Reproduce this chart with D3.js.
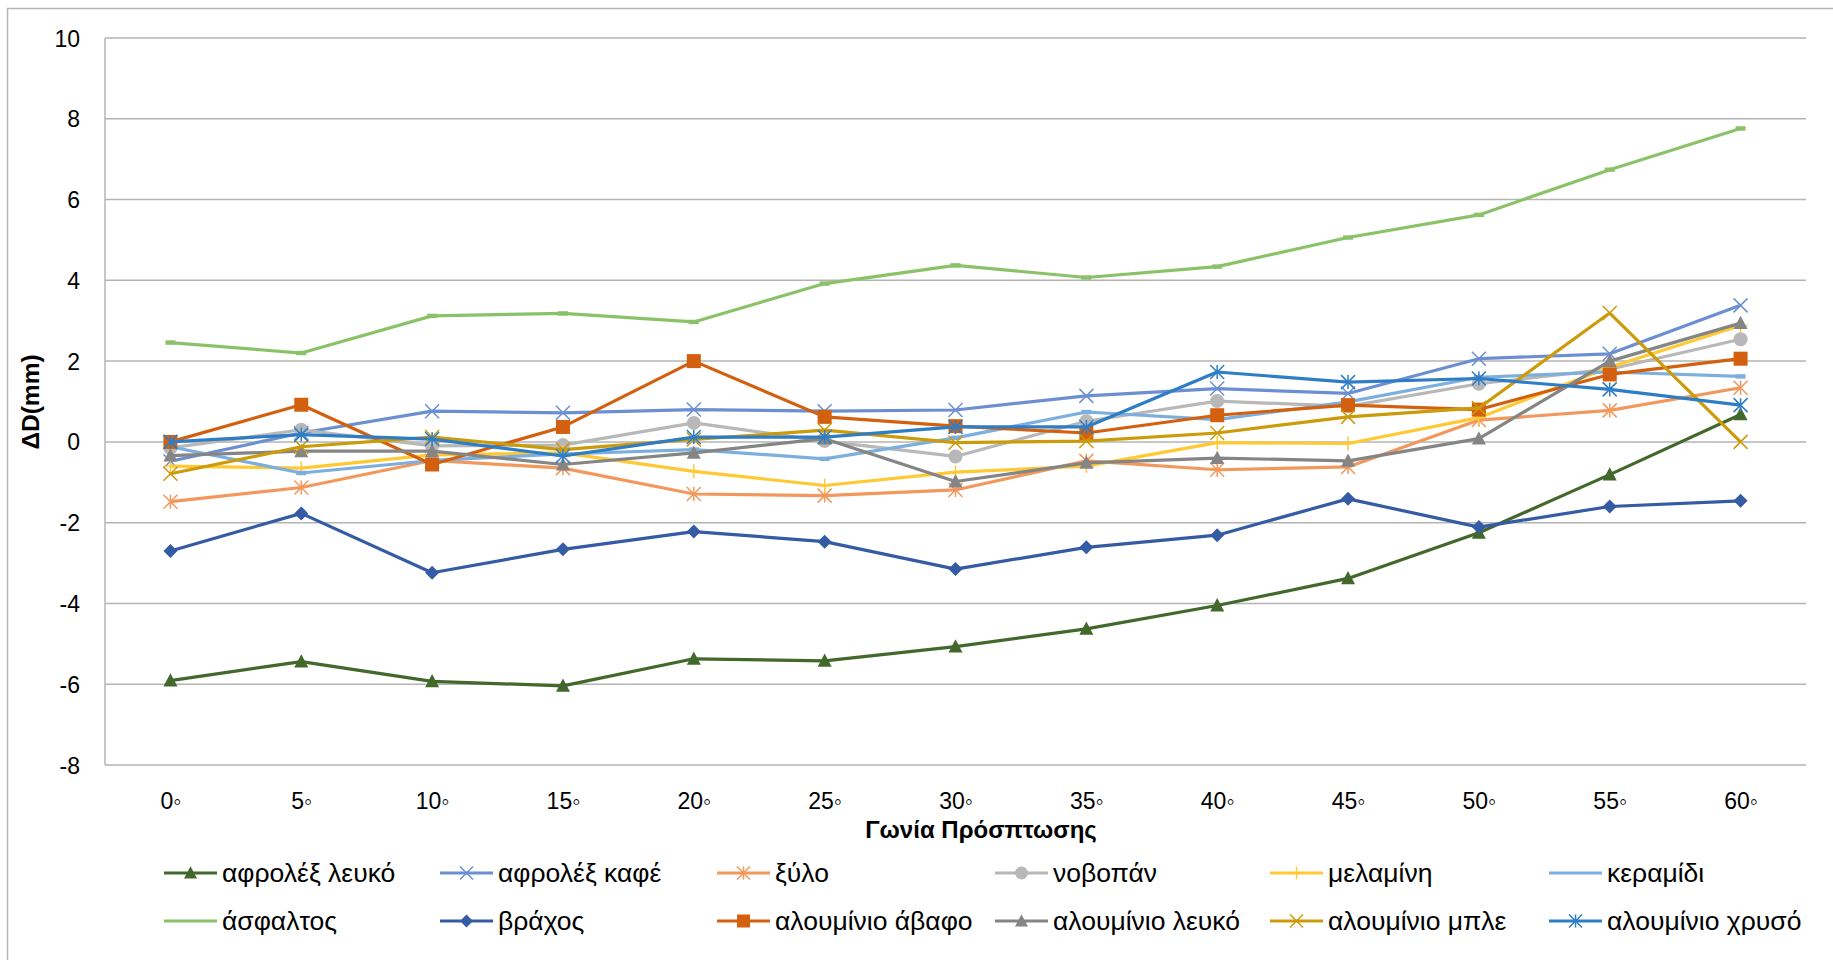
<!DOCTYPE html>
<html>
<head>
<meta charset="utf-8">
<script src="https://cdn.jsdelivr.net/npm/d3@7/dist/d3.min.js"></script>
<style>
  body { margin: 0; background: #fff; }
  svg { display: block; }
  text { font-family: "Liberation Sans", Arial, sans-serif; fill: #000; }
</style>
</head>
<body>
<svg id="chart" width="1833" height="960"></svg>
<script>
// Angle of incidence categories
const angles = ["0\u25E6", "5\u25E6", "10\u25E6", "15\u25E6", "20\u25E6", "25\u25E6", "30\u25E6",
                "35\u25E6", "40\u25E6", "45\u25E6", "50\u25E6", "55\u25E6", "60\u25E6"];

// ΔD (mm) per material, one value per angle
const afrolexLeuko    = [-5.91, -5.44, -5.93, -6.04, -5.37, -5.42, -5.07, -4.63, -4.05, -3.38, -2.25, -0.81, 0.68];
const afrolexKafe     = [-0.48, 0.22, 0.76, 0.72, 0.80, 0.76, 0.79, 1.14, 1.32, 1.20, 2.06, 2.18, 3.38];
const xylo            = [-1.48, -1.13, -0.46, -0.65, -1.29, -1.33, -1.19, -0.47, -0.69, -0.62, 0.54, 0.78, 1.34];
const novopan         = [-0.15, 0.30, -0.10, -0.08, 0.47, 0.02, -0.36, 0.51, 1.01, 0.88, 1.44, 1.80, 2.54];
const melamini        = [-0.60, -0.65, -0.32, -0.27, -0.73, -1.08, -0.75, -0.60, -0.02, -0.04, 0.60, 1.85, 2.88];
const keramidi        = [-0.12, -0.77, -0.46, -0.30, -0.19, -0.42, 0.10, 0.74, 0.55, 0.99, 1.60, 1.73, 1.62];
const asfaltos        = [2.46, 2.20, 3.12, 3.18, 2.97, 3.92, 4.37, 4.07, 4.34, 5.06, 5.62, 6.74, 7.76];
const vrachos         = [-2.70, -1.77, -3.24, -2.66, -2.22, -2.47, -3.15, -2.61, -2.31, -1.41, -2.11, -1.60, -1.46];
const alouminioAvafo  = [0.00, 0.92, -0.56, 0.37, 2.00, 0.62, 0.39, 0.22, 0.66, 0.91, 0.80, 1.67, 2.06];
const alouminioLeuko  = [-0.34, -0.23, -0.23, -0.56, -0.27, 0.08, -0.98, -0.52, -0.40, -0.47, 0.08, 2.00, 2.94];
const alouminioMple   = [-0.79, -0.12, 0.12, -0.19, 0.06, 0.29, -0.02, 0.02, 0.22, 0.62, 0.84, 3.19, 0.00];
const alouminioChryso = [0.00, 0.18, 0.07, -0.35, 0.12, 0.12, 0.37, 0.37, 1.73, 1.48, 1.57, 1.30, 0.91];

const seriesNames = ["αφρολέξ λευκό", "αφρολέξ καφέ", "ξύλο", "νοβοπάν", "μελαμίνη", "κεραμίδι",
                     "άσφαλτος", "βράχος", "αλουμίνιο άβαφο", "αλουμίνιο λευκό", "αλουμίνιο μπλε", "αλουμίνιο χρυσό"];
const seriesValues = [afrolexLeuko, afrolexKafe, xylo, novopan, melamini, keramidi,
                      asfaltos, vrachos, alouminioAvafo, alouminioLeuko, alouminioMple, alouminioChryso];
const seriesColors = ["#43682b", "#6c8fd2", "#f3985c", "#b8b8b8", "#ffc934", "#7dafde",
                      "#8bc268", "#345ba3", "#d3600f", "#858585", "#cc9b0a", "#2e7dc5"];
const seriesMarkers = ["triangle", "x", "star", "circle", "plus", "dash",
                       "dash", "diamond", "square", "triangle", "x", "star"];

const yTicks = [-8, -6, -4, -2, 0, 2, 4, 6, 8, 10];
const yTitle = "ΔD(mm)";
const xTitle = "Γωνία Πρόσπτωσης";

const svg = d3.select("#chart");

// chart frame
svg.append("rect")
  .attr("x", 7.5).attr("y", 8.5).attr("width", 1840).attr("height", 960)
  .attr("fill", "none").attr("stroke", "#b4b4b4").attr("stroke-width", 1.5);

const plot = { left: 105, right: 1806, top: 38, bottom: 765 };

const x = d3.scalePoint().domain(angles).range([plot.left, plot.right]).padding(0.5);
const y = d3.scaleLinear().domain([-8, 10]).range([plot.bottom, plot.top]);

// horizontal gridlines
svg.append("g")
  .selectAll("line").data(yTicks).join("line")
  .attr("x1", plot.left).attr("x2", plot.right)
  .attr("y1", d => y(d)).attr("y2", d => y(d))
  .attr("stroke", "#b4b4b4").attr("stroke-width", 1.5);

// value axis line
svg.append("line")
  .attr("x1", plot.left).attr("x2", plot.left)
  .attr("y1", plot.top).attr("y2", plot.bottom)
  .attr("stroke", "#b4b4b4").attr("stroke-width", 1.5);

// y axis tick labels (plain hyphen for negatives)
const yAxis = d3.axisLeft(y).tickValues(yTicks).tickFormat(d => String(d)).tickSize(0).tickPadding(0);
const yg = svg.append("g").attr("transform", `translate(${80},0)`).call(yAxis);
yg.select(".domain").remove();
yg.selectAll("text").attr("font-size", 23).attr("font-family", "Liberation Sans, Arial, sans-serif")
  .attr("x", 0).attr("dy", "0.35em");

// x axis tick labels
const xAxis = d3.axisBottom(x).tickSize(0).tickPadding(0);
const xg = svg.append("g").attr("transform", `translate(0,${792})`).call(xAxis);
xg.select(".domain").remove();
xg.selectAll("text").attr("font-size", 23).attr("font-family", "Liberation Sans, Arial, sans-serif")
  .attr("y", 0).attr("dy", "0.72em");

// axis titles
svg.append("text")
  .attr("transform", "translate(39,402) rotate(-90)")
  .attr("text-anchor", "middle")
  .attr("font-size", 24.5).attr("font-weight", "bold")
  .text(yTitle);

svg.append("text")
  .attr("x", 981).attr("y", 838)
  .attr("text-anchor", "middle")
  .attr("font-size", 24).attr("font-weight", "bold")
  .text(xTitle);

// marker drawing
function drawMarker(g, type, color, s) {
  const h = s / 2;
  switch (type) {
    case "triangle":
      g.append("path").attr("d", `M0,${-h * 1.05}L${h},${h * 0.85}L${-h},${h * 0.85}Z`).attr("fill", color);
      break;
    case "diamond":
      g.append("path").attr("d", `M0,${-h}L${h},0L0,${h}L${-h},0Z`).attr("fill", color);
      break;
    case "square":
      g.append("rect").attr("x", -h).attr("y", -h).attr("width", s).attr("height", s).attr("fill", color);
      break;
    case "circle":
      g.append("circle").attr("r", h).attr("fill", color);
      break;
    case "x":
      g.append("path").attr("d", `M${-h},${-h}L${h},${h}M${-h},${h}L${h},${-h}`)
        .attr("stroke", color).attr("stroke-width", 1.5).attr("fill", "none");
      break;
    case "star":
      g.append("path").attr("d", `M${-h},${-h}L${h},${h}M${-h},${h}L${h},${-h}M0,${-h}L0,${h}`)
        .attr("stroke", color).attr("stroke-width", 1.5).attr("fill", "none");
      break;
    case "plus":
      g.append("path").attr("d", `M0,${-h}L0,${h}M${-h},0L${h},0`)
        .attr("stroke", color).attr("stroke-width", 1.5).attr("fill", "none");
      break;
    case "dash":
      g.append("rect").attr("x", -5).attr("y", -2.2).attr("width", 10).attr("height", 4.4).attr("fill", color);
      break;
  }
}

const line = d3.line().x((d, i) => x(angles[i])).y(d => y(d));

// series: line and markers, drawn in series order
seriesValues.forEach((vals, si) => {
  const g = svg.append("g").attr("class", "series");
  g.append("path")
    .attr("d", line(vals))
    .attr("fill", "none")
    .attr("stroke", seriesColors[si])
    .attr("stroke-width", 3.2)
    .attr("stroke-linejoin", "round");
  vals.forEach((v, i) => {
    const mg = g.append("g").attr("transform", `translate(${x(angles[i])},${y(v)})`);
    drawMarker(mg, seriesMarkers[si], seriesColors[si], 14);
  });
});

// legend: two rows of six
const legendCols = [164, 440, 717, 995, 1270, 1549];
const legendRows = [873, 921];
const legend = svg.append("g").selectAll("g").data(seriesNames).join("g")
  .attr("transform", (d, i) => `translate(${legendCols[i % 6]},${legendRows[Math.floor(i / 6)]})`);
legend.append("line")
  .attr("x1", 0).attr("x2", 53).attr("y1", 0).attr("y2", 0)
  .attr("stroke", (d, i) => seriesColors[i]).attr("stroke-width", 3.2);
legend.each(function (d, i) {
  if (seriesMarkers[i] === "dash") return;
  const mg = d3.select(this).append("g").attr("transform", "translate(26.5,0)");
  drawMarker(mg, seriesMarkers[i], seriesColors[i], 13);
});
legend.append("text")
  .attr("x", 58).attr("y", 0).attr("dy", "0.35em")
  .attr("font-size", 26.5)
  .text(d => d);
</script>
</body>
</html>
